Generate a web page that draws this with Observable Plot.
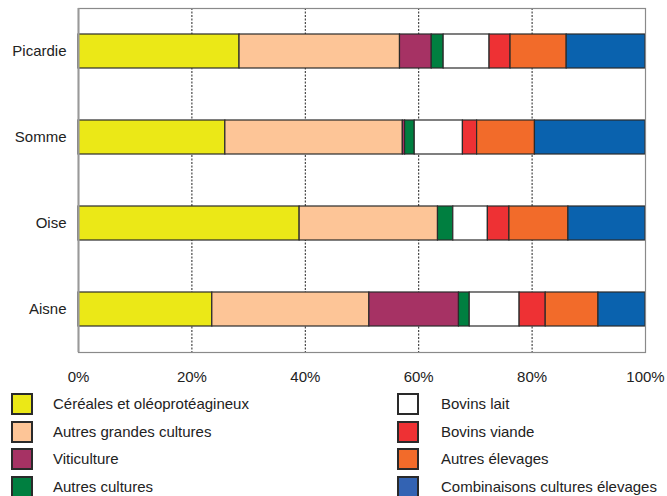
<!DOCTYPE html>
<html>
<head>
<meta charset="utf-8">
<script src="https://cdn.jsdelivr.net/npm/d3@7"></script>
<script src="https://cdn.jsdelivr.net/npm/@observablehq/plot@0.6"></script>
<style>
  html, body { margin: 0; padding: 0; background: #fff; }
  body { width: 667px; height: 496px; position: relative; overflow: hidden; font-family: "Liberation Sans", Arial, sans-serif; }
  #legend { position: absolute; left: 0; top: 393px; width: 667px; }
  .item { position: absolute; height: 22px; font-size: 15px; color: #222; }
  .sw { position: absolute; width: 18px; height: 18px; border: 2px solid #2a2a2a; }
  .lbl { position: absolute; white-space: nowrap; line-height: 22px; }
</style>
</head>
<body>
<div id="chart"></div>
<div id="legend"></div>
<script>
const regions = ["Picardie", "Somme", "Oise", "Aisne"];
const categories = [
  "Céréales et oléoprotéagineux",
  "Autres grandes cultures",
  "Viticulture",
  "Autres cultures",
  "Bovins lait",
  "Bovins viande",
  "Autres élevages",
  "Combinaisons cultures élevages"
];
// shares (%) per region, in category order
const picardie = [28.4, 28.3, 5.6, 2.1, 8.1, 3.7, 9.9, 13.9];
const somme    = [25.9, 31.3, 0.4, 1.7, 8.5, 2.5, 10.2, 19.5];
const oise     = [39.0, 24.4, 0.0, 2.7, 6.1, 3.8, 10.4, 13.6];
const aisne    = [23.6, 27.7, 15.8, 1.9, 8.8, 4.6, 9.3, 8.3];
const xTicks = [0, 20, 40, 60, 80, 100];
const tickLabels = ["0%", "20%", "40%", "60%", "80%", "100%"];

const colors = ["#ebe817", "#fdc597", "#a63264", "#007f40", "#ffffff", "#ee3134", "#f26b2a", "#0a62ae"];
const legendColors = ["#ebe817", "#fdc597", "#a63264", "#007f40", "#ffffff", "#ee3134", "#f26b2a", "#3363b3"];

const series = {Picardie: picardie, Somme: somme, Oise: oise, Aisne: aisne};
const table = [];
for (const r of regions) {
  series[r].forEach((v, i) => {
    if (v > 0) table.push({region: r, category: categories[i], order: i, value: v});
  });
}

const chart = Plot.plot({
  width: 667,
  height: 388,
  marginTop: 8,
  marginBottom: 36,
  marginLeft: 78,
  marginRight: 22,
  style: {fontFamily: "'Liberation Sans', Arial, sans-serif", fontSize: "15px", color: "#222", background: "#fff"},
  x: {domain: [0, 100], ticks: xTicks, tickFormat: (d) => tickLabels[xTicks.indexOf(d)], tickSize: 0, tickPadding: 19, label: null},
  y: {domain: regions, paddingInner: 0.6, paddingOuter: 0.3, tickSize: 0, tickPadding: 12, label: null},
  color: {domain: categories, range: colors},
  marks: [
    Plot.ruleX([20, 40, 60, 80], {stroke: "#222", strokeDasharray: "2,1.5", strokeWidth: 1}),
    Plot.barX(table, Plot.stackX({x: "value", y: "region", fill: "category", order: "order", stroke: "#2a2a2a", strokeWidth: 1.2})),
    Plot.frame({stroke: "#8a8a8a", strokeWidth: 1.2}),
    Plot.ruleX([0], {stroke: "#999", strokeWidth: 2})
  ]
});
document.getElementById("chart").appendChild(chart);

// legend
const legend = document.getElementById("legend");
categories.forEach((c, i) => {
  const col = i < 4 ? 0 : 1;
  const row = i % 4;
  const item = document.createElement("div");
  item.className = "item";
  item.style.top = (row * 27.7) + "px";
  item.style.left = "0px";
  const sw = document.createElement("div");
  sw.className = "sw";
  sw.style.left = (col === 0 ? 11 : 397) + "px";
  sw.style.top = "0px";
  sw.style.background = legendColors[i];
  const lbl = document.createElement("div");
  lbl.className = "lbl";
  lbl.style.left = (col === 0 ? 53 : 441) + "px";
  lbl.style.top = "0px";
  lbl.textContent = c;
  item.appendChild(sw);
  item.appendChild(lbl);
  legend.appendChild(item);
});
</script>
</body>
</html>
